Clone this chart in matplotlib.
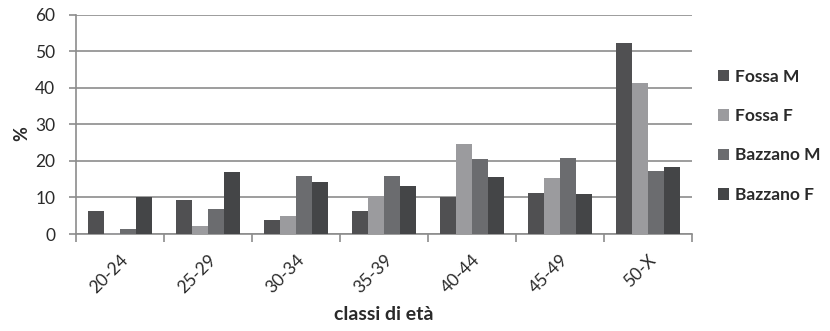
import matplotlib
matplotlib.use("Agg")
import matplotlib.pyplot as plt
import numpy as np

categories = ["20-24", "25-29", "30-34", "35-39", "40-44", "45-49", "50-X"]
series_names = ["Fossa M", "Fossa F", "Bazzano M", "Bazzano F"]
fossa_m = [6.3, 9.4, 3.8, 6.3, 10.1, 11.3, 52.2]
fossa_f = [0.4, 2.3, 4.8, 10.5, 24.7, 15.2, 41.2]
bazzano_m = [1.3, 6.8, 16.0, 16.0, 20.5, 20.8, 17.2]
bazzano_f = [10.2, 17.0, 14.1, 13.2, 15.5, 11.0, 18.3]
colors = ["#505052", "#9b9b9e", "#6b6c6f", "#444547"]

plt.rcParams['font.family'] = ['Lato', 'DejaVu Sans']
txt = "#2a2a2a"

fig = plt.figure(figsize=(8.3, 3.31), dpi=100)
ax = fig.add_axes([0.0916, 0.293, 0.742, 0.6626])

x = np.arange(len(categories))
w = 0.18
data = [fossa_m, fossa_f, bazzano_m, bazzano_f]
for i, (vals, name, c) in enumerate(zip(data, series_names, colors)):
    ax.bar(x + (i - 1.5) * w, vals, width=w, color=c, label=name, zorder=3)

ax.set_xlim(-0.5, len(categories) - 0.5)
ax.set_ylim(0, 60)
ax.set_yticks(range(0, 61, 10))
ax.yaxis.grid(True, color="#8c8c8c", linewidth=1.2, zorder=0)
ax.set_axisbelow(True)

ax.set_xticks(np.arange(-0.5, len(categories), 1.0), minor=False)
ax.set_xticklabels([])
ax.set_xticks(x, minor=True)
ax.set_xticklabels(categories, minor=True, rotation=45, ha="right",
                   rotation_mode="anchor", fontsize=12.5, color=txt)
ax.tick_params(axis="x", which="minor", length=0, pad=13)
ax.tick_params(axis="x", which="major", length=6, color="#8c8c8c", width=1.2)
ax.tick_params(axis="y", length=5, color="#8c8c8c", width=1.2,
               labelsize=12.5, labelcolor=txt, pad=10)

for s in ["top", "right"]:
    ax.spines[s].set_visible(False)
for s in ["left", "bottom"]:
    ax.spines[s].set_color("#8c8c8c")
    ax.spines[s].set_linewidth(1.2)

ax.set_xlabel("classi di età", fontsize=14, fontweight="bold", color=txt, labelpad=7)
ax.set_ylabel("%", fontsize=13, fontweight="bold", color=txt)
ax.yaxis.set_label_coords(-0.074, 0.46)

fig.legend(loc="upper left", bbox_to_anchor=(0.846, 0.84), frameon=False,
           prop={"weight": "bold", "size": 12.5}, labelspacing=1.35,
           handlelength=0.65, handleheight=0.65, handletextpad=0.35,
           labelcolor=txt)

fig.savefig("out.png", dpi=100)
